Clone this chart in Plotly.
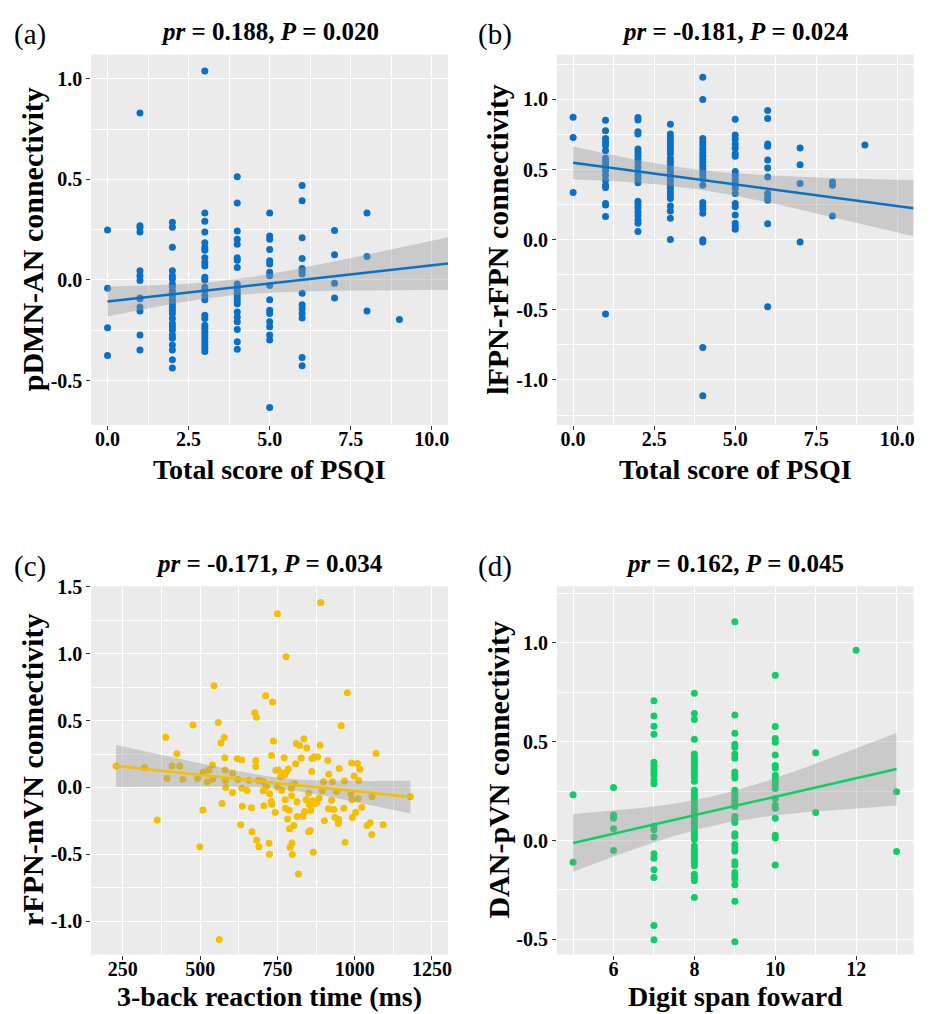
import numpy as np
import plotly.graph_objects as go

# ---------------- data ----------------
# (a) PSQI total score vs pDMN-AN connectivity
a_score = [0, 0, 0, 0,
           1, 1, 1, 1, 1, 1, 1, 1, 1, 1, 1, 1, 1,
           2, 2, 2, 2, 2, 2, 2, 2, 2, 2, 2, 2, 2,
           2, 2, 2, 2, 2, 2, 2, 2, 2, 2, 2, 2, 2,
           3, 3, 3, 3, 3, 3, 3, 3, 3, 3, 3, 3, 3,
           3, 3, 3, 3, 3, 3, 3, 3, 3, 3, 3, 3, 3, 3,
           4, 4, 4, 4, 4, 4, 4, 4, 4, 4,
           4, 4, 4, 4, 4, 4, 4, 4, 4, 4, 4,
           5, 5, 5, 5, 5, 5, 5, 5, 5, 5, 5, 5, 5, 5, 5, 5, 5,
           6, 6, 6, 6, 6, 6, 6, 6, 6, 6, 6, 6, 6, 6,
           7, 7, 7, 7,
           8, 8, 8,
           9]
a_conn = [0.248, -0.041, -0.238, -0.375,
          0.83, 0.27, 0.259, 0.238, 0.046, 0.021, -0.003, -0.09, -0.093, -0.134, -0.154, -0.274, -0.348,
          0.287, 0.262, 0.162, 0.046, 0.021, 0.005, -0.02, -0.033, -0.052, -0.069, -0.085, -0.102, -0.118,
          -0.134, -0.151, -0.167, -0.192, -0.216, -0.233, -0.249, -0.274, -0.29, -0.323, -0.348, -0.397, -0.438,
          1.038, 0.333, 0.292, 0.238, 0.185, 0.161, 0.148, 0.111, 0.087, 0.07, 0.013, 0.0, -0.036,
          -0.052, -0.077, -0.098, -0.175, -0.192, -0.225, -0.241, -0.257, -0.274, -0.29, -0.307, -0.323, -0.339, -0.356,
          0.513, 0.382, 0.243, 0.202, 0.177, 0.111, 0.098, 0.062, -0.02, -0.036,
          -0.052, -0.069, -0.085, -0.102, -0.118, -0.159, -0.184, -0.208, -0.246, -0.307, -0.344,
          0.333, 0.218, 0.202, 0.152, 0.095, 0.079, 0.038, 0.021, -0.028, -0.098, -0.151, -0.167, -0.208, -0.233, -0.274, -0.298, -0.634,
          0.469, 0.393, 0.21, 0.107, 0.057, 0.046, 0.03, -0.066, -0.123, -0.143, -0.167, -0.189, -0.385, -0.426,
          0.246, 0.125, -0.016, -0.089,
          0.333, 0.116, -0.154,
          -0.197]

# (b) PSQI total score vs lFPN-rFPN connectivity
b_score = [0, 0, 0,
           1, 1, 1, 1, 1, 1, 1, 1, 1, 1, 1, 1, 1, 1, 1, 1, 1, 1, 1,
           2, 2, 2, 2, 2, 2, 2, 2, 2, 2, 2,
           2, 2, 2, 2, 2, 2, 2, 2, 2, 2, 2,
           3, 3, 3, 3, 3, 3, 3, 3, 3, 3, 3, 3, 3,
           3, 3, 3, 3, 3, 3, 3, 3, 3, 3, 3, 3,
           4, 4, 4, 4, 4, 4, 4, 4, 4, 4, 4, 4,
           4, 4, 4, 4, 4, 4, 4, 4, 4, 4, 4, 4,
           5, 5, 5, 5, 5, 5, 5, 5, 5, 5, 5, 5, 5, 5, 5, 5, 5, 5, 5, 5,
           6, 6, 6, 6, 6, 6, 6, 6, 6, 6, 6, 6,
           7, 7, 7, 7,
           8, 8, 8,
           9]
b_conn = [0.873, 0.729, 0.336,
          0.852, 0.776, 0.722, 0.694, 0.671, 0.635, 0.581, 0.565, 0.541, 0.518, 0.494, 0.459, 0.424, 0.388, 0.372, 0.259, 0.247, 0.165, -0.529,
          0.871, 0.854, 0.769, 0.753, 0.647, 0.624, 0.6, 0.576, 0.548, 0.518, 0.482,
          0.459, 0.435, 0.407, 0.275, 0.252, 0.228, 0.2, 0.172, 0.141, 0.118, 0.059,
          0.824, 0.753, 0.729, 0.706, 0.682, 0.659, 0.635, 0.612, 0.581, 0.558, 0.534, 0.506, 0.482,
          0.459, 0.435, 0.412, 0.388, 0.365, 0.341, 0.318, 0.294, 0.24, 0.205, 0.153, 0.002,
          1.158, 1.0, 0.722, 0.699, 0.675, 0.647, 0.624, 0.6, 0.576, 0.553, 0.529, 0.506,
          0.482, 0.459, 0.435, 0.388, 0.266, 0.242, 0.219, 0.188, 0.0, -0.016, -0.769, -1.113,
          0.859, 0.746, 0.718, 0.682, 0.652, 0.612, 0.595, 0.487, 0.459, 0.435, 0.412, 0.388, 0.365, 0.329, 0.259, 0.235, 0.176, 0.118, 0.094, 0.075,
          0.922, 0.864, 0.682, 0.666, 0.569, 0.511, 0.447, 0.329, 0.299, 0.282, 0.113, -0.478,
          0.654, 0.534, 0.4, -0.016,
          0.412, 0.388, 0.169,
          0.675]

# (c) 3-back reaction time vs rFPN-mVN connectivity
c_rt = [228, 320, 361, 389, 393, 409, 425, 434, 444, 477, 492, 499, 509, 510, 523, 529, 540, 541,
        545, 559, 562, 567, 571, 578, 580, 581, 582, 583, 605, 605, 620, 622, 631, 634, 635, 636,
        652, 658, 666, 668, 677, 680, 680, 682, 683, 689, 690, 704, 704, 706, 712, 714, 723, 724,
        725, 730, 731, 732, 734, 737, 743, 745, 750, 750, 753, 760, 764, 767, 772, 773, 775, 776,
        778, 779, 783, 785, 788, 789, 791, 795, 796, 796, 797, 798, 803, 806, 809, 811, 813, 814,
        818, 822, 827, 832, 836, 838, 843, 845, 851, 851, 853, 856, 858, 861, 862, 864, 866, 869,
        872, 877, 880, 885, 888, 890, 895, 899, 902, 913, 915, 916, 925, 928, 932, 936, 941, 947,
        948, 950, 956, 965, 967, 969, 976, 988, 990, 991, 992, 998, 1003, 1009, 1011, 1013, 1017,
        1023, 1040, 1050, 1055, 1056, 1069, 1092, 1180]
c_conn = [0.16, 0.15, -0.244, 0.375, 0.067, 0.16, 0.252, 0.16, 0.062, 0.467, 0.067, -0.444, -0.168, 0.116, 0.04, 0.131, 0.168, 0.062,
          0.76, 0.486, -1.138, 0.333, -0.119, 0.373, 0.222, 0.131, 0.052, 0.0, 0.106, -0.037, 0.215, 0.059, -0.279, 0.205, -0.005, -0.141,
          -0.022, 0.052, -0.151, -0.331, 0.558, 0.202, 0.156, 0.526, -0.395, 0.054, -0.444, 0.042, -0.025, -0.136, 0.686, 0.005, -0.417, -0.499,
          -0.047, -0.104, 0.24, -0.126, 0.64, 0.348, -0.188, 0.128, 1.299, 0.002, 0.131, 0.081, -0.02, 0.106, 0.222, 0.094, -0.091, -0.156,
          0.978, 0.116, -0.235, 0.138, -0.17, -0.309, -0.447, -0.007, 0.012, -0.062, -0.415, -0.501, -0.284, 0.027, 0.178, 0.328, -0.106, -0.217,
          -0.647, 0.314, 0.22, -0.217, 0.365, -0.18, -0.091, 0.296, -0.331, -0.044, -0.128, -0.321, -0.173, 0.119, 0.217, -0.099, -0.484, 0.23,
          -0.121, -0.111, 0.227, -0.079, 0.316, 1.383, -0.022, 0.042, -0.249, 0.202, -0.16, 0.099, -0.096, 0.042, -0.165, -0.225, -0.03, -0.269,
          -0.24, 0.141, 0.462, -0.156, 0.049, -0.41, 0.709, -0.047, 0.183, -0.091, -0.225, 0.086, -0.185, 0.18, -0.084, 0.052, 0.136,
          -0.148, -0.284, -0.264, -0.351, -0.069, 0.254, -0.279, -0.069]

# (d) digit span forward vs DAN-pVN connectivity
d_span = [5, 5,
          6, 6, 6, 6, 6, 6,
          7, 7, 7, 7, 7, 7, 7, 7, 7, 7, 7, 7, 7, 7, 7, 7, 7, 7, 7, 7,
          8, 8, 8, 8, 8, 8, 8, 8, 8, 8, 8, 8, 8, 8, 8, 8, 8, 8, 8, 8,
          8, 8, 8, 8, 8, 8, 8, 8, 8, 8, 8, 8, 8, 8, 8, 8, 8, 8, 8, 8,
          9, 9, 9, 9, 9, 9, 9, 9, 9, 9, 9, 9, 9, 9, 9, 9,
          9, 9, 9, 9, 9, 9, 9, 9, 9, 9, 9, 9, 9, 9, 9, 9,
          10, 10, 10, 10, 10, 10, 10, 10, 10, 10, 10, 10, 10, 10, 10, 10, 10, 10, 10,
          11, 11,
          12,
          13, 13]
d_conn = [0.232, -0.11,
          0.268, 0.13, 0.122, 0.113, 0.06, -0.05,
          0.708, 0.63, 0.578, 0.538, 0.397, 0.38, 0.363, 0.347, 0.33, 0.305, 0.288, 0.072, 0.055, 0.018, -0.067, -0.09, -0.148, -0.187, -0.43, -0.502,
          0.745, 0.643, 0.613, 0.513, 0.438, 0.422, 0.405, 0.388, 0.372, 0.355, 0.338, 0.322, 0.3, 0.255, 0.238, 0.222, 0.205, 0.188, 0.172, 0.155,
          0.138, 0.122, 0.105, 0.088, 0.072, 0.055, 0.038, 0.022, 0.005, -0.028, -0.045, -0.062, -0.078, -0.095, -0.112, -0.128, -0.17, -0.187, -0.203, -0.288,
          1.108, 0.635, 0.543, 0.488, 0.472, 0.438, 0.417, 0.347, 0.33, 0.317, 0.255, 0.238, 0.222, 0.205, 0.188, 0.172,
          0.122, 0.105, 0.092, 0.035, 0.022, -0.02, -0.037, -0.053, -0.107, -0.123, -0.162, -0.178, -0.195, -0.223, -0.307, -0.512,
          0.837, 0.577, 0.517, 0.497, 0.433, 0.38, 0.367, 0.33, 0.313, 0.297, 0.28, 0.263, 0.213, 0.18, 0.163, 0.113, 0.027, 0.013, -0.123,
          0.445, 0.142,
          0.963,
          0.247, -0.055]

for xs_, ys_ in [(a_score, a_conn), (b_score, b_conn), (c_rt, c_conn), (d_span, d_conn)]:
    assert len(xs_) == len(ys_), (len(xs_), len(ys_))

# fitted regression lines as drawn in the picture: x at both ends, y at both ends,
# and half-width of the 95% confidence band at both ends
fit_x_ends = [(0, 10.5), (0, 10.5), (228, 1180), (5, 13)]
fit_y_ends = [(-0.107, 0.082), (0.548, 0.224), (0.16, -0.072), (-0.012, 0.362)]
band_half_ends = [(0.074, 0.13), (0.117, 0.2), (0.157, 0.123), (0.146, 0.184)]

# titles / labels
panel_tags = ["(a)", "(b)", "(c)", "(d)"]
panel_stats = [("0.188", "0.020"), ("-0.181", "0.024"), ("-0.171", "0.034"), ("0.162", "0.045")]
x_titles = ["Total score of PSQI", "Total score of PSQI", "3-back reaction time (ms)", "Digit span foward"]
y_titles = ["pDMN-AN connectivity", "lFPN-rFPN connectivity", "rFPN-mVN connectivity", "DAN-pVN connectivity"]
colors = ["#0870C6", "#0870C6", "#F4BF00", "#10CE66"]

# axis ticks
ab_xticks = [0, 2.5, 5, 7.5, 10]
ab_xtext = ["0.0", "2.5", "5.0", "7.5", "10.0"]
a_yticks = [-0.5, 0, 0.5, 1.0]
a_ytext = ["-0.5", "0.0", "0.5", "1.0"]
b_yticks = [-1.0, -0.5, 0, 0.5, 1.0]
b_ytext = ["-1.0", "-0.5", "0.0", "0.5", "1.0"]
c_xticks = [250, 500, 750, 1000, 1250]
c_xtext = ["250", "500", "750", "1000", "1250"]
c_yticks = [-1.0, -0.5, 0, 0.5, 1.0, 1.5]
c_ytext = ["-1.0", "-0.5", "0.0", "0.5", "1.0", "1.5"]
d_xticks = [6, 8, 10, 12]
d_xtext = ["6", "8", "10", "12"]
d_yticks = [-0.5, 0, 0.5, 1.0]
d_ytext = ["-0.5", "0.0", "0.5", "1.0"]

# ---------------- figure ----------------
W, H = 933, 1014
FONT = "Liberation Serif, Times New Roman, serif"


def band_curve(x, xe, ye, he, grid):
    """straight fit line through the end values, with a confidence band whose
    half-width grows like an OLS band around the mean of x."""
    xm = float(np.mean(x))
    (x0, x1), (y0, y1), (h0, h1) = xe, ye, he
    slope = (y1 - y0) / (x1 - x0)
    fit = y0 + slope * (grid - x0)
    d0, d1 = (x0 - xm) ** 2, (x1 - xm) ** 2
    k = (h1 ** 2 - h0 ** 2) / (d1 - d0)
    base = max(h0 ** 2 - k * d0, 1e-6)
    half = np.sqrt(base + k * (grid - xm) ** 2)
    return fit, fit - half, fit + half


# pixel layout of the four panels: (left, right, top, bottom)
panels_px = [(91.7, 450.0, 45.0, 419.0), (559.3, 917.5, 45.0, 419.0),
             (91.7, 450.0, 582.0, 954.0), (559.3, 917.5, 582.0, 954.0)]
x_ranges = [[-0.5, 10.5], [-0.5, 10.5], [148, 1302], [4.6, 13.42]]
y_ranges = [[-0.72, 1.12], [-1.32, 1.32], [-1.25, 1.505], [-0.577, 1.287]]
x_minor = [(1.25, 2.5), (1.25, 2.5), (125, 250), (5, 2)]
y_minor = [(0.25, 0.5)] * 4
xtick_sets = [(ab_xticks, ab_xtext), (ab_xticks, ab_xtext), (c_xticks, c_xtext), (d_xticks, d_xtext)]
ytick_sets = [(a_yticks, a_ytext), (b_yticks, b_ytext), (c_yticks, c_ytext), (d_yticks, d_ytext)]
datasets = [(a_score, a_conn), (b_score, b_conn), (c_rt, c_conn), (d_span, d_conn)]
xtitle_y = [464, 464, 996, 996]

fig = go.Figure()
layout = dict(width=W, height=H, margin=dict(l=0, r=0, t=0, b=0),
              paper_bgcolor="white", plot_bgcolor="#EBEBEB", showlegend=False,
              font=dict(family=FONT, color="black"))
annotations = []

for i in range(4):
    k = "" if i == 0 else str(i + 1)
    L, R, T, B = panels_px[i]
    xd = [L / W, R / W]
    yd = [1 - B / H, 1 - T / H]
    xv, xt = xtick_sets[i]
    yv, yt = ytick_sets[i]
    common = dict(showgrid=True, gridcolor="white", gridwidth=1.3, zeroline=False,
                  ticks="outside", ticklen=4, tickwidth=1, tickcolor="#333333",
                  showline=False, tickmode="array",
                  tickfont=dict(family=FONT, size=20, color="black", weight="bold"))
    layout["xaxis" + k] = dict(domain=xd, range=x_ranges[i], anchor="y" + k,
                               tickvals=xv, ticktext=xt, ticklabelstandoff=-8,
                               minor=dict(tick0=x_minor[i][0], dtick=x_minor[i][1], showgrid=True,
                                          gridcolor="white", gridwidth=0.6, ticks=""),
                               **common)
    layout["yaxis" + k] = dict(domain=yd, range=y_ranges[i], anchor="x" + k,
                               tickvals=yv, ticktext=yt,
                               minor=dict(tick0=y_minor[i][0], dtick=y_minor[i][1], showgrid=True,
                                          gridcolor="white", gridwidth=0.6, ticks=""),
                               **common)
    xs, ys = datasets[i]
    col = colors[i]
    fig.add_trace(go.Scatter(x=xs, y=ys, mode="markers", xaxis="x" + k, yaxis="y" + k,
                             marker=dict(color=col, size=7, line=dict(width=0)),
                             hoverinfo="skip"))
    grid = np.linspace(fit_x_ends[i][0], fit_x_ends[i][1], 120)
    fit, lo, hi = band_curve(xs, fit_x_ends[i], fit_y_ends[i], band_half_ends[i], grid)
    fig.add_trace(go.Scatter(x=np.concatenate([grid, grid[::-1]]),
                             y=np.concatenate([hi, lo[::-1]]),
                             mode="lines", fill="toself", line=dict(width=0),
                             fillcolor="rgba(153,153,153,0.4)", xaxis="x" + k, yaxis="y" + k,
                             hoverinfo="skip"))
    fig.add_trace(go.Scatter(x=grid, y=fit, mode="lines", line=dict(color=col, width=2.5),
                             xaxis="x" + k, yaxis="y" + k, hoverinfo="skip"))

    cx = (L + R) / 2
    cy = (T + B) / 2
    r_val, p_val = panel_stats[i]
    # plot title
    annotations.append(dict(text="<i>pr</i> = %s, <i>P</i> = %s" % (r_val, p_val),
                            x=cx / W, y=1 - (T - 23) / H, xref="paper", yref="paper",
                            xanchor="center", yanchor="middle", showarrow=False,
                            font=dict(family=FONT, size=25, color="black", weight="bold")))
    # panel tag
    annotations.append(dict(text=panel_tags[i], x=(L - 62) / W, y=1 - (T - 20) / H,
                            xref="paper", yref="paper", xanchor="center", yanchor="middle",
                            showarrow=False, font=dict(family=FONT, size=29, color="black")))
    # x-axis title
    annotations.append(dict(text=x_titles[i], x=cx / W, y=1 - xtitle_y[i] / H,
                            xref="paper", yref="paper", xanchor="center", yanchor="middle",
                            showarrow=False, borderpad=0,
                            font=dict(family=FONT, size=28, color="black", weight="bold")))
    # y-axis title
    annotations.append(dict(text=y_titles[i], x=(L - 59) / W, y=1 - cy / H, textangle=-90,
                            xref="paper", yref="paper", xanchor="center", yanchor="middle",
                            showarrow=False,
                            font=dict(family=FONT, size=30, color="black", weight="bold")))

layout["annotations"] = annotations
fig.update_layout(**layout)
fig.write_html("out.html")
